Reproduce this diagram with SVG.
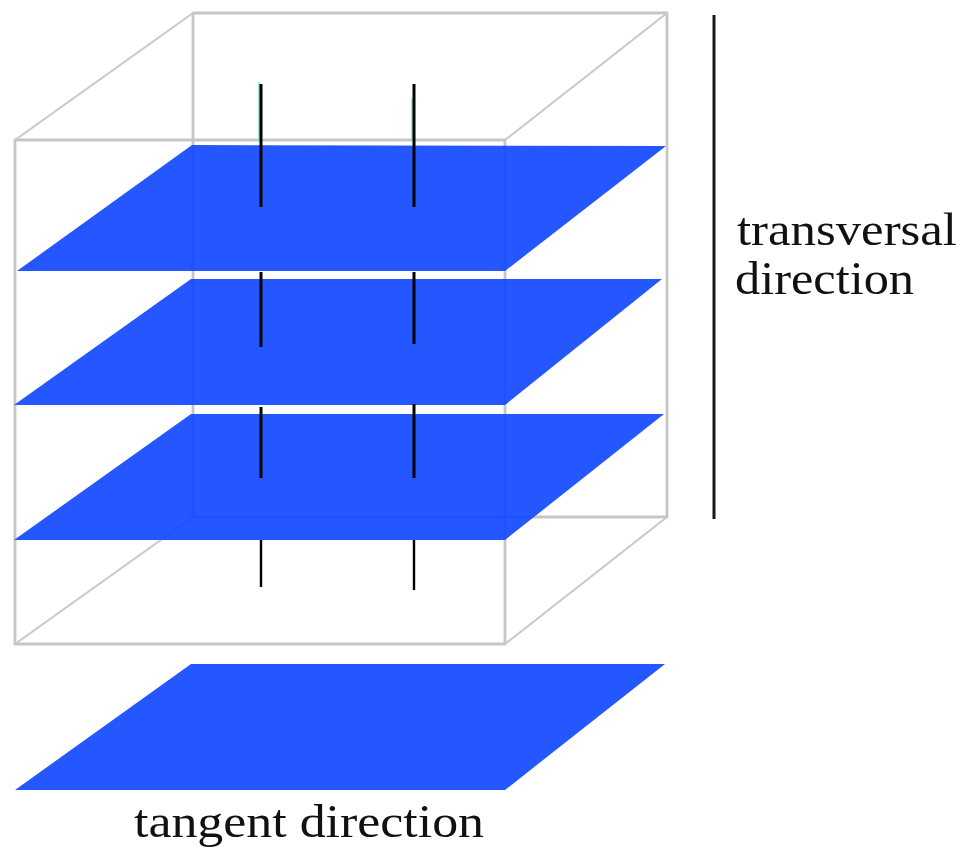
<svg xmlns="http://www.w3.org/2000/svg" width="968" height="861" viewBox="0 0 968 861">
<style>
.box{fill:none;stroke:#c6c6c6;stroke-width:2.8;stroke-linejoin:round}
.edge{fill:none;stroke:#c8c8c8;stroke-width:2}
.plane{fill:#0c45ff;fill-opacity:.9;stroke:none}
.fibre{stroke:#000;stroke-width:3;fill:none}
.fibre2{stroke:#000;stroke-width:2.4;fill:none}
.fringe{stroke:#6fe6d2;stroke-width:1.4;fill:none}
.label{font-family:"Liberation Serif","Times New Roman",serif;font-size:46px;fill:#111}
</style>
<rect width="968" height="861" fill="#fff"/>
<g id="box">
<path class="box" d="M15 140H505V644H15Z"/>
<path class="box" d="M193 13H667V517H193Z"/>
<path class="edge" d="M15 140L193 13M505 140L667 13M15 644L193 517M505 644L667 517"/>
</g>
<g id="plane-1"><polygon class="plane" points="192,145 666,146 505,271 17,271"/></g>
<g id="plane-2"><polygon class="plane" points="191,279 662,279 505,405 14,405"/></g>
<g id="plane-3"><polygon class="plane" points="191,414 664,414 505,540 14,540"/></g>
<g id="plane-4"><polygon class="plane" points="191,664 665,664 505,790 15,790"/></g>
<g id="connectors">
<path class="fringe" d="M259 82V142M412 98V142"/>
<path class="fibre" d="M261 84V207M414 84V207M261 272V347M414 272V344M261 407V478M414 404V478"/>
<path class="fibre2" d="M261 540V587M414 540V590"/>
<path class="fibre" d="M714 15V519" stroke-opacity=".9"/>
</g>
<g id="labels">
<text class="label" x="737" y="245" textLength="220" lengthAdjust="spacingAndGlyphs">transversal</text>
<text class="label" x="735" y="294" textLength="179" lengthAdjust="spacingAndGlyphs">direction</text>
<text class="label" x="134" y="837" textLength="350" lengthAdjust="spacingAndGlyphs">tangent direction</text>
</g>
</svg>
